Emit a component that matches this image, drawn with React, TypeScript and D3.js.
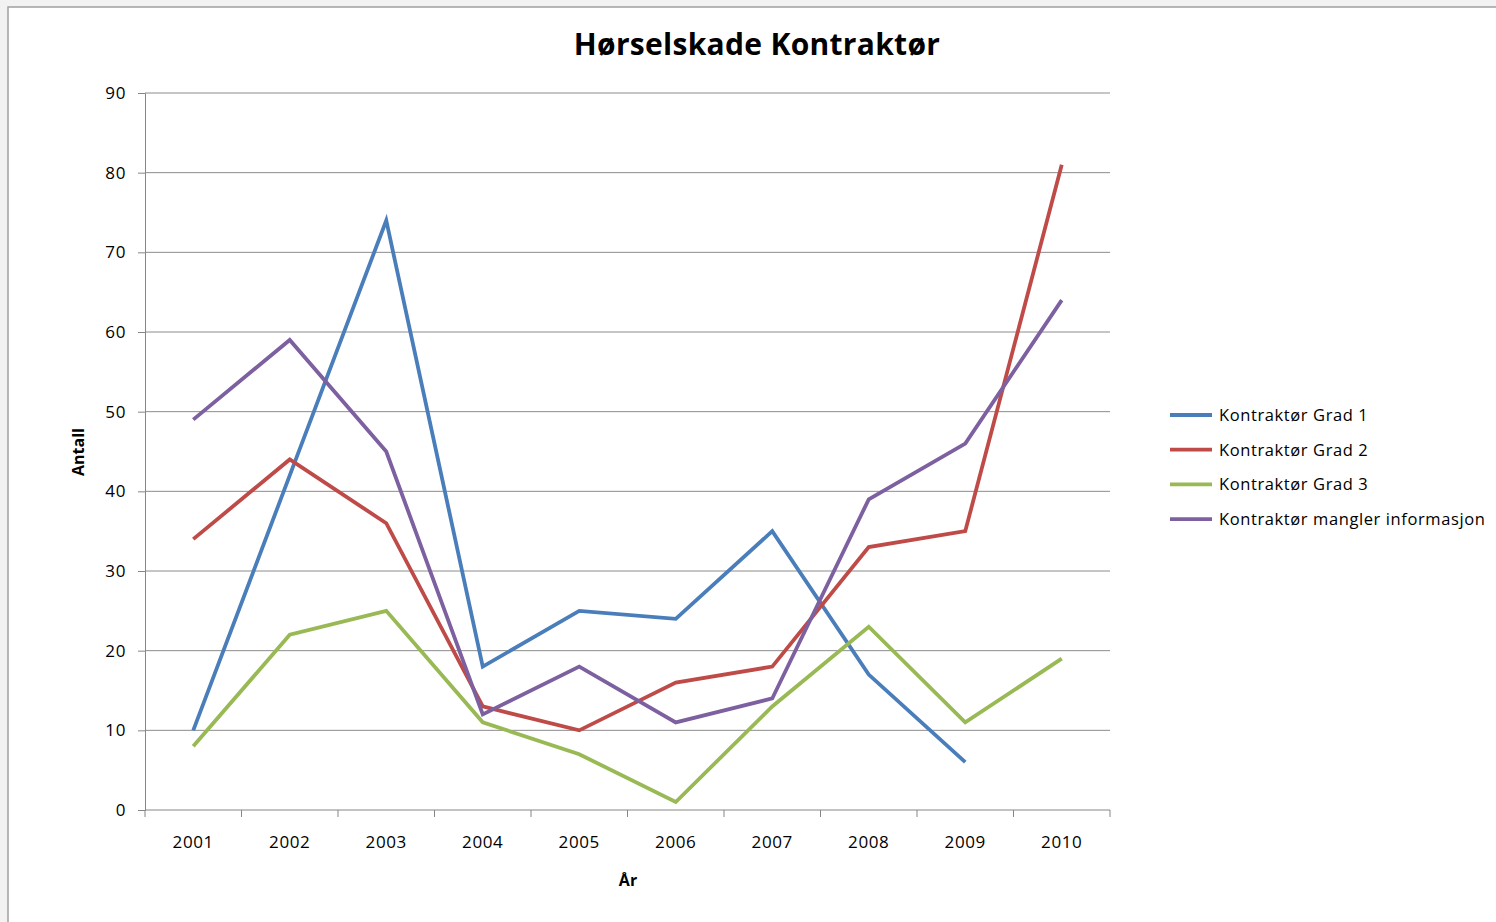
import React, { useEffect, useRef } from "react";
import { select, scaleBand, scaleLinear, axisBottom, axisLeft, line } from "d3";

const years = ["2001", "2002", "2003", "2004", "2005", "2006", "2007", "2008", "2009", "2010"];
const grad1 = [10, 42, 74, 18, 25, 24, 35, 17, 6, null];
const grad2 = [34, 44, 36, 13, 10, 16, 18, 33, 35, 81];
const grad3 = [8, 22, 25, 11, 7, 1, 13, 23, 11, 19];
const mangler = [49, 59, 45, 12, 18, 11, 14, 39, 46, 64];
const yTicks = [0, 10, 20, 30, 40, 50, 60, 70, 80, 90];

const seriesNames = ["Kontraktør Grad 1", "Kontraktør Grad 2", "Kontraktør Grad 3", "Kontraktør mangler informasjon"];
const seriesColors = ["#4a7ebb", "#be4b48", "#98b954", "#7d60a0"];

const FONT = "'Open Sans', 'Noto Sans', sans-serif";

const App = () => {
  const svgRef = useRef<SVGSVGElement>(null);

  useEffect(() => {
    const svg = select(svgRef.current);
    svg.selectAll("*").remove();

    const left = 145, right = 1110, top = 93, bottom = 810;

    // outer frame
    svg.append("rect").attr("x", 0).attr("y", 0).attr("width", 1496).attr("height", 922).attr("fill", "#f2f2f2");
    svg.append("rect").attr("x", 8).attr("y", 7).attr("width", 1600).attr("height", 1000)
      .attr("fill", "#ffffff").attr("stroke", "#a0a0a0").attr("stroke-width", 1.5);

    const x = scaleBand().domain(years).range([left, right]);
    const y = scaleLinear().domain([0, 90]).range([bottom, top]);

    // gridlines
    svg.append("g").selectAll("line").data(yTicks.filter(t => t > 0)).join("line")
      .attr("x1", left).attr("x2", right)
      .attr("y1", d => y(d)).attr("y2", d => y(d))
      .attr("stroke", "#8c8c8c").attr("stroke-width", 1);

    // axes
    const yAxis = svg.append("g").attr("transform", `translate(${left},0)`)
      .call(axisLeft(y).tickValues(yTicks).tickSize(7).tickPadding(12));
    yAxis.select(".domain").attr("stroke", "#868686");
    yAxis.selectAll(".tick line").attr("stroke", "#868686");
    yAxis.selectAll("text").attr("font-family", FONT).attr("font-size", 17)
      .attr("letter-spacing", 0.6).attr("fill", "#000");

    const xAxis = svg.append("g").attr("transform", `translate(0,${bottom})`)
      .call(axisBottom(x).tickSize(0).tickPadding(26));
    xAxis.select(".domain").attr("stroke", "#868686").attr("d", `M${left},0H${right}`);
    xAxis.selectAll("text").attr("font-family", FONT).attr("font-size", 17)
      .attr("letter-spacing", 0.6).attr("fill", "#000");
    // band boundary ticks
    xAxis.append("g").selectAll("line").data([...years.map(d => x(d) as number), right]).join("line")
      .attr("x1", d => d).attr("x2", d => d).attr("y1", 0).attr("y2", 7)
      .attr("stroke", "#868686");

    // lines
    const allSeries = [grad1, grad2, grad3, mangler];
    const gen = line<number | null>()
      .defined(d => d !== null)
      .x((_, i) => (x(years[i]) as number) + x.bandwidth() / 2)
      .y(d => y(d as number));

    svg.append("g").selectAll("path").data(allSeries).join("path")
      .attr("d", d => gen(d))
      .attr("fill", "none")
      .attr("stroke", (_, i) => seriesColors[i])
      .attr("stroke-width", 3.8)
      .attr("stroke-linejoin", "miter");

    // title
    svg.append("text").attr("x", 757).attr("y", 55).attr("text-anchor", "middle")
      .attr("font-family", FONT).attr("font-weight", "bold").attr("font-size", 30)
      .attr("letter-spacing", 0.3)
      .text("Hørselskade Kontraktør");

    // axis titles
    svg.append("text").attr("x", 628).attr("y", 886).attr("text-anchor", "middle")
      .attr("font-family", FONT).attr("font-weight", "bold").attr("font-size", 16)
      .text("År");
    svg.append("text").attr("transform", "translate(84,452) rotate(-90)").attr("text-anchor", "middle")
      .attr("font-family", FONT).attr("font-weight", "bold").attr("font-size", 16)
      .text("Antall");

    // legend
    const legend = svg.append("g").selectAll("g").data(seriesNames).join("g")
      .attr("transform", (_, i) => `translate(1170,${415 + i * 34.7})`);
    legend.append("line").attr("x1", 0).attr("x2", 42).attr("y1", 0).attr("y2", 0)
      .attr("stroke", (_, i) => seriesColors[i]).attr("stroke-width", 3.8);
    legend.append("text").attr("x", 49).attr("y", 6)
      .attr("font-family", FONT).attr("font-size", 16.5).attr("letter-spacing", 0.6)
      .attr("fill", "#000")
      .text(d => d);
  }, []);

  return (
    <div style={{ position: "absolute", left: 0, top: 0 }}>
      <svg ref={svgRef} width={1496} height={922} style={{ display: "block" }} />
    </div>
  );
};

export default App;
